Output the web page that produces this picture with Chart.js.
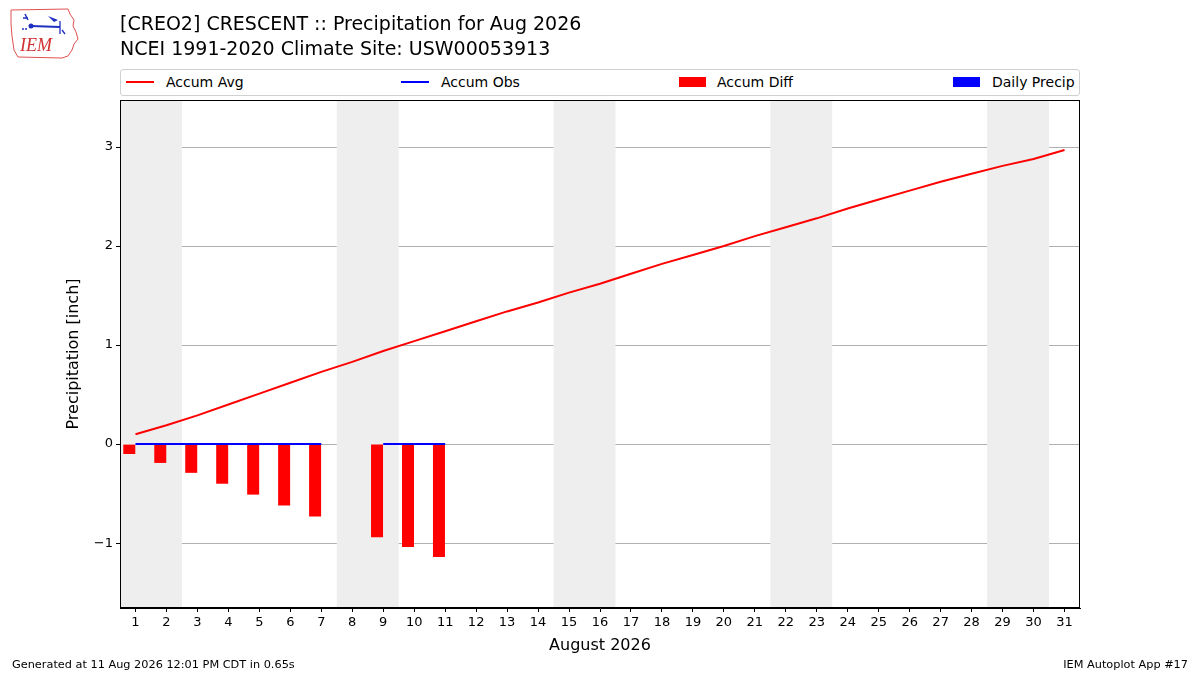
<!DOCTYPE html>
<html>
<head>
<meta charset="utf-8">
<script src="https://cdn.jsdelivr.net/npm/chart.js@4/dist/chart.umd.min.js"></script>
<style>
  body { margin: 0; background: #fff; font-family: "DejaVu Sans", sans-serif; }
  #wrap { position: relative; width: 1200px; height: 675px; overflow: hidden; }
  #plot { position: absolute; left: 0; top: 0; }
  .title { position: absolute; left: 120px; font-size: 19px; color: #000; white-space: nowrap; }
  .foot { position: absolute; top: 658px; font-size: 11.3px; color: #000; white-space: nowrap; }
  #legend { position: absolute; left: 120px; top: 69px; width: 958px; height: 25px;
            border: 1px solid #d0d0d0; border-radius: 3px; background: #fff; }
  .item { position: absolute; top: 4px; font-size: 14px; line-height: 16px; white-space: nowrap; }
  .swatch { position: absolute; }
</style>
</head>
<body>
<div id="wrap">
  <canvas id="plot" width="1200" height="675"></canvas>
  <svg style="position:absolute;left:8px;top:6px" width="72" height="54" viewBox="0 0 72 54">
    <path d="M3 4 L60 3 L62 8 L66 14 L65 20 L68 26 L70 33 L66 38 L64 44 L60 50 L54 52 L10 51 L6 44 L4 30 L3 18 Z"
          fill="none" stroke="#e05050" stroke-width="1"/>
    <path d="M17 8 L20 14 M15 12 L20 12" stroke="#2030c0" stroke-width="1.5" fill="none"/>
    <circle cx="23" cy="20" r="2.5" fill="#2030c0"/>
    <line x1="23" y1="20" x2="52" y2="21" stroke="#2030c0" stroke-width="2"/>
    <path d="M40 10 L50 14 L46 16 Z" fill="#2030c0"/>
    <path d="M52 15 L52 28 M54 24 L57 28" stroke="#2030c0" stroke-width="1.3" fill="none"/>
    <circle cx="18" cy="23" r="1" fill="#2030c0"/><circle cx="15" cy="23" r="1" fill="#2030c0"/>
    <text x="12" y="45" font-family="Liberation Serif, serif" font-style="italic" font-size="18" fill="#d03030">IEM</text>
  </svg>
  <div class="title" style="top:12px">[CREO2] CRESCENT :: Precipitation for Aug 2026</div>
  <div class="title" style="top:37px">NCEI 1991-2020 Climate Site: USW00053913</div>
  <div id="legend"></div>
  <div class="foot" style="left:12px">Generated at 11 Aug 2026 12:01 PM CDT in 0.65s</div>
  <div class="foot" style="right:12px">IEM Autoplot App #17</div>
</div>
<script>
// days of August 2026
let days = [1,2,3,4,5,6,7,8,9,10,11,12,13,14,15,16,17,18,19,20,21,22,23,24,25,26,27,28,29,30,31];

// climate accumulated average precipitation (inch)
let accumAvg = [0.10,0.19,0.29,0.40,0.51,0.62,0.73,0.83,0.94,1.04,1.14,1.24,1.34,1.43,1.53,1.62,
  1.72,1.82,1.91,2.00,2.10,2.19,2.28,2.38,2.47,2.56,2.65,2.73,2.81,2.88,2.97];

// observed days so far (day 8 missing)
let obsDays = [1,2,3,4,5,6,7,8,9,10,11];
let accumObs = [0,0,0,0,0,0,0,null,0,0,0];
let dailyPrecip = [0,0,0,0,0,0,0,null,0,0,0];
let accumDiff = [-0.10,-0.19,-0.29,-0.40,-0.51,-0.62,-0.73,null,-0.94,-1.04,-1.14];

// weekend shading (Sat/Sun pairs)
let weekends = [[1,2],[8,9],[15,16],[22,23],[29,30]];

let yTicks = [-1,0,1,2,3];

function pts(xs, ys, shift) {
  let out = [];
  for (let i = 0; i < xs.length; i++) {
    out.push({ x: xs[i] + (shift || 0), y: ys[i] });
  }
  return out;
}

// grey weekend bands + full frame around the axes
let bandsPlugin = {
  id: "bands",
  beforeDatasetsDraw(chart) {
    let ctx = chart.ctx, xs = chart.scales.x, a = chart.chartArea;
    ctx.save();
    ctx.fillStyle = "#eeeeee";
    weekends.forEach(w => {
      let x0 = xs.getPixelForValue(w[0] - 0.5);
      let x1 = xs.getPixelForValue(w[1] + 0.5);
      ctx.fillRect(x0, a.top, x1 - x0, a.bottom - a.top);
    });
    ctx.restore();
  },
  afterDraw(chart) {
    let ctx = chart.ctx, a = chart.chartArea;
    ctx.save();
    ctx.strokeStyle = "#000";
    ctx.lineWidth = 1;
    ctx.strokeRect(Math.round(a.left) + 0.5, Math.round(a.top) + 0.5,
      Math.round(a.right - a.left) - 1, Math.round(a.bottom - a.top) - 1);
    ctx.restore();
  }
};

let datasets = [
  { type: "line", label: "Accum Avg", data: pts(days, accumAvg), borderColor: "#ff0000",
    backgroundColor: "#ff0000", borderWidth: 2, pointRadius: 0, tension: 0, order: 1 },
  { type: "line", label: "Accum Obs", data: pts(obsDays, accumObs), borderColor: "#0000ff",
    backgroundColor: "#0000ff", borderWidth: 2, pointRadius: 0, spanGaps: false, order: 0 },
  { type: "bar", label: "Accum Diff", data: pts(obsDays, accumDiff, -0.2), backgroundColor: "#ff0000",
    barThickness: 12, grouped: false, inflateAmount: 0, order: 2 },
  { type: "bar", label: "Daily Precip", data: pts(obsDays, dailyPrecip, 0.2), backgroundColor: "#0000ff",
    barThickness: 12, grouped: false, inflateAmount: 0, order: 3 }
];

let chart = new Chart(document.getElementById("plot").getContext("2d"), {
  data: { datasets: datasets },
  plugins: [bandsPlugin],
  options: {
    responsive: false,
    animation: false,
    layout: { padding: { left: 64, right: 120, top: 100, bottom: 20 } },
    plugins: { legend: { display: false }, tooltip: { enabled: false } },
    scales: {
      x: {
        type: "linear", min: 0.5, max: 31.5, offset: false,
        afterBuildTicks(s) { s.ticks = days.map(v => ({ value: v })); },
        afterFit(s) { s.height = 47; },
        grid: { offset: false, drawOnChartArea: false, drawTicks: true, tickLength: 4, tickColor: "#000" },
        border: { color: "#000" },
        ticks: { color: "#000", font: { family: "DejaVu Sans", size: 13 }, padding: 3, maxRotation: 0, autoSkip: false },
        title: { display: true, text: "August 2026", color: "#000", font: { family: "DejaVu Sans", size: 16 }, padding: 0 }
      },
      y: {
        type: "linear", min: -1.655, max: 3.475,
        afterBuildTicks(s) { s.ticks = yTicks.map(v => ({ value: v })); },
        afterFit(s) { s.width = 56; },
        grid: { color: "#b0b0b0", tickColor: "#000", tickLength: 4 },
        border: { color: "#000" },
        ticks: { color: "#000", font: { family: "DejaVu Sans", size: 13 }, padding: 3,
          callback: v => (v < 0 ? "\u2212" + Math.abs(v) : "" + v) },
        title: { display: true, text: "Precipitation [inch]", color: "#000", font: { family: "DejaVu Sans", size: 16 }, padding: 0 }
      }
    }
  }
});

// legend spread across the top of the axes
let legendPos = [
  { sw: 5, tx: 45 },
  { sw: 280, tx: 320 },
  { sw: 558, tx: 596 },
  { sw: 832, tx: 871 }
];
let legend = document.getElementById("legend");
datasets.forEach((d, i) => {
  let sw = document.createElement("div");
  sw.className = "swatch";
  sw.style.left = legendPos[i].sw + "px";
  sw.style.width = (d.type === "line" ? 28 : 27) + "px";
  if (d.type === "line") {
    sw.style.top = "11px"; sw.style.height = "2px";
  } else {
    sw.style.top = "7px"; sw.style.height = "10px";
  }
  sw.style.background = d.backgroundColor;
  legend.appendChild(sw);
  let t = document.createElement("div");
  t.className = "item";
  t.style.left = legendPos[i].tx + "px";
  t.textContent = d.label;
  legend.appendChild(t);
});
</script>
</body>
</html>
